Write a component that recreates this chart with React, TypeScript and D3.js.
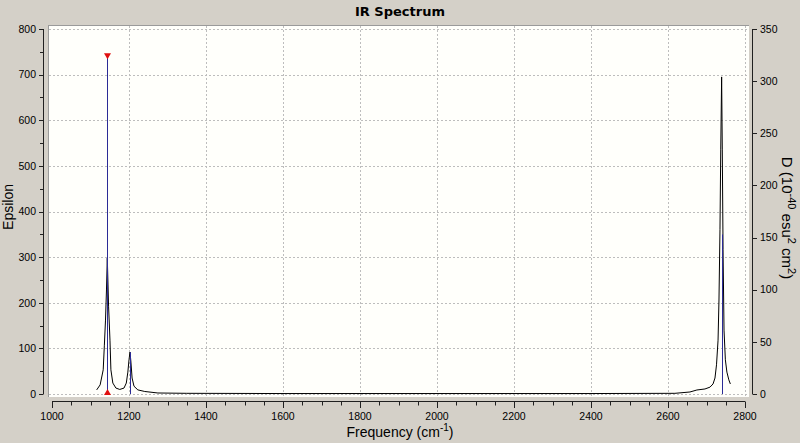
import React from 'react';
import * as d3 from 'd3';

// axis ticks
const freqTicks = [1000, 1200, 1400, 1600, 1800, 2000, 2200, 2400, 2600, 2800];
const epsTicks = [0, 100, 200, 300, 400, 500, 600, 700, 800];
const dTicks = [0, 50, 100, 150, 200, 250, 300, 350];

// broadened spectrum
const curveFreq = [
  1116, 1125, 1133, 1136, 1139, 1141.5, 1143.6, 1145.5, 1147, 1150.6, 1153, 1158, 1166, 1176,
  1187, 1193, 1197, 1200, 1202.6, 1205, 1208, 1213, 1223, 1241, 1275, 1350, 1600, 2000, 2400,
  2618, 2657, 2675, 2696, 2709, 2717, 2722, 2726, 2730, 2732.4, 2735, 2737, 2739.3, 2741, 2743,
  2745.5, 2749, 2753, 2758, 2762,
];
const curveEps = [
  9, 20, 53, 107, 162, 228, 298, 239, 191, 118, 53, 24, 13, 10,
  13, 24, 48, 75, 92, 70, 35, 17, 9, 5.5, 2.2, 1.5, 1, 1, 1,
  1.5, 4.4, 8.8, 11, 15, 22, 35, 64, 118, 206, 360, 535, 695, 535, 316,
  140, 75, 48, 31, 22,
];

// stick spectrum (right axis)
const stickFreq = [1143.6, 1202.6, 2739.3];
const stickD = [323, 40, 153];
const selectedPeak = 0;

const W = 800, H = 443;
const font = '"Liberation Sans", Arial, sans-serif';

export default function App() {
  const x = d3.scaleLinear().domain([1000, 2800]).range([52, 745]);
  const yL = d3.scaleLinear().domain([0, 800]).range([394, 29]);
  const yR = d3.scaleLinear().domain([0, 350]).range([394, 29]);

  const pts: [number, number][] = curveFreq.map((f, i) => [f, curveEps[i]]);
  const line = d3.line<[number, number]>()
    .x(d => x(d[0]))
    .y(d => yL(d[1]));

  const minorFreq = d3.range(1000, 2801, 50).filter(v => v % 200 !== 0);
  const minorEps = d3.range(50, 800, 100);

  const sx = Math.round(x(stickFreq[selectedPeak])) + 0.5;
  const sTop = yR(stickD[selectedPeak]);
  const tri = 3.5;

  return (
    <svg width={W} height={H} style={{ position: 'absolute', left: 0, top: 0, display: 'block' }}>
      <rect x={0} y={0} width={W} height={H} fill="#d4d0c8" />
      <text x={400} y={16} textAnchor="middle" fontFamily='"DejaVu Sans", sans-serif'
        fontWeight="bold" fontSize={13} fill="#000">IR Spectrum</text>

      {/* plot area */}
      <rect x={48} y={25} width={701} height={372} fill="#fffffb" />
      <line x1={48} x2={749} y1={25.5} y2={25.5} stroke="#9a9a9a" />
      <line x1={48.5} x2={48.5} y1={25} y2={397} stroke="#9a9a9a" />

      {/* grid */}
      <g stroke="#bdbdbd" strokeDasharray="2,2" strokeWidth={1}>
        {epsTicks.map(t => (
          <line key={'h' + t} x1={49} x2={749} y1={Math.round(yL(t)) + 0.5} y2={Math.round(yL(t)) + 0.5} />
        ))}
        {freqTicks.slice(1).map(t => (
          <line key={'v' + t} x1={Math.round(x(t)) + 0.5} x2={Math.round(x(t)) + 0.5} y1={26} y2={397} />
        ))}
      </g>

      {/* spectrum */}
      <path d={line(pts) || ''} fill="none" stroke="#000" strokeWidth={1} />
      <g stroke="#2b2b96" strokeWidth={1}>
        {stickFreq.map((f, i) => (
          <line key={'s' + i} x1={Math.round(x(f)) + 0.5} x2={Math.round(x(f)) + 0.5}
            y1={yR(0)} y2={yR(stickD[i])} />
        ))}
      </g>
      <g fill="#e01010">
        <path d={`M${sx - tri},${sTop - 4}L${sx + tri},${sTop - 4}L${sx},${sTop + 2}Z`} />
        <path d={`M${sx - tri},${yR(0) + 1}L${sx + tri},${yR(0) + 1}L${sx},${yR(0) - 5}Z`} />
      </g>

      {/* left axis */}
      <g stroke="#202020">
        <line x1={43.5} x2={43.5} y1={yL(800)} y2={yL(0)} />
        {epsTicks.map(t => (
          <line key={'lt' + t} x1={39} x2={43.5} y1={Math.round(yL(t)) + 0.5} y2={Math.round(yL(t)) + 0.5} />
        ))}
        {minorEps.map(t => (
          <line key={'lm' + t} x1={40} x2={43.5} y1={Math.round(yL(t)) + 0.5} y2={Math.round(yL(t)) + 0.5} />
        ))}
      </g>
      <g fontFamily={font} fontSize={10.5} fill="#000" textAnchor="end">
        {epsTicks.map(t => (
          <text key={'ll' + t} x={36} y={yL(t)} dy="0.36em">{t}</text>
        ))}
      </g>
      <text transform="translate(13,207) rotate(-90)" textAnchor="middle" fontFamily={font}
        fontSize={14} fill="#000">Epsilon</text>

      {/* right axis */}
      <g stroke="#202020">
        <line x1={752.5} x2={752.5} y1={yR(350)} y2={yR(0)} />
        {dTicks.map(t => (
          <line key={'rt' + t} x1={752.5} x2={757} y1={Math.round(yR(t)) + 0.5} y2={Math.round(yR(t)) + 0.5} />
        ))}
      </g>
      <g fontFamily={font} fontSize={10.5} fill="#000" textAnchor="start">
        {dTicks.map(t => (
          <text key={'rl' + t} x={760} y={yR(t)} dy="0.36em">{t}</text>
        ))}
      </g>
      <text transform="translate(782,218) rotate(90)" textAnchor="middle" fontFamily={font}
        fontSize={15} fill="#000">
        D (10<tspan fontSize={11} dy={-6}>-40</tspan>
        <tspan dy={6}> esu</tspan><tspan fontSize={11} dy={-6}>2</tspan>
        <tspan dy={6}> cm</tspan><tspan fontSize={11} dy={-6}>2</tspan>
        <tspan dy={6}>)</tspan>
      </text>

      {/* bottom axis */}
      <g stroke="#202020">
        <line x1={x(1000)} x2={x(2800)} y1={401.5} y2={401.5} />
        {freqTicks.map(t => (
          <line key={'bt' + t} x1={Math.round(x(t)) + 0.5} x2={Math.round(x(t)) + 0.5} y1={401.5} y2={408} />
        ))}
        {minorFreq.map(t => (
          <line key={'bm' + t} x1={Math.round(x(t)) + 0.5} x2={Math.round(x(t)) + 0.5} y1={401.5} y2={405.5} />
        ))}
      </g>
      <g fontFamily={font} fontSize={10.5} fill="#000" textAnchor="middle">
        {freqTicks.map(t => (
          <text key={'bl' + t} x={x(t)} y={419.5}>{t}</text>
        ))}
      </g>
      <text x={400} y={437} textAnchor="middle" fontFamily={font} fontSize={14} fill="#000">
        Frequency (cm<tspan fontSize={10} dy={-6}>-1</tspan><tspan dy={6}>)</tspan>
      </text>
    </svg>
  );
}
